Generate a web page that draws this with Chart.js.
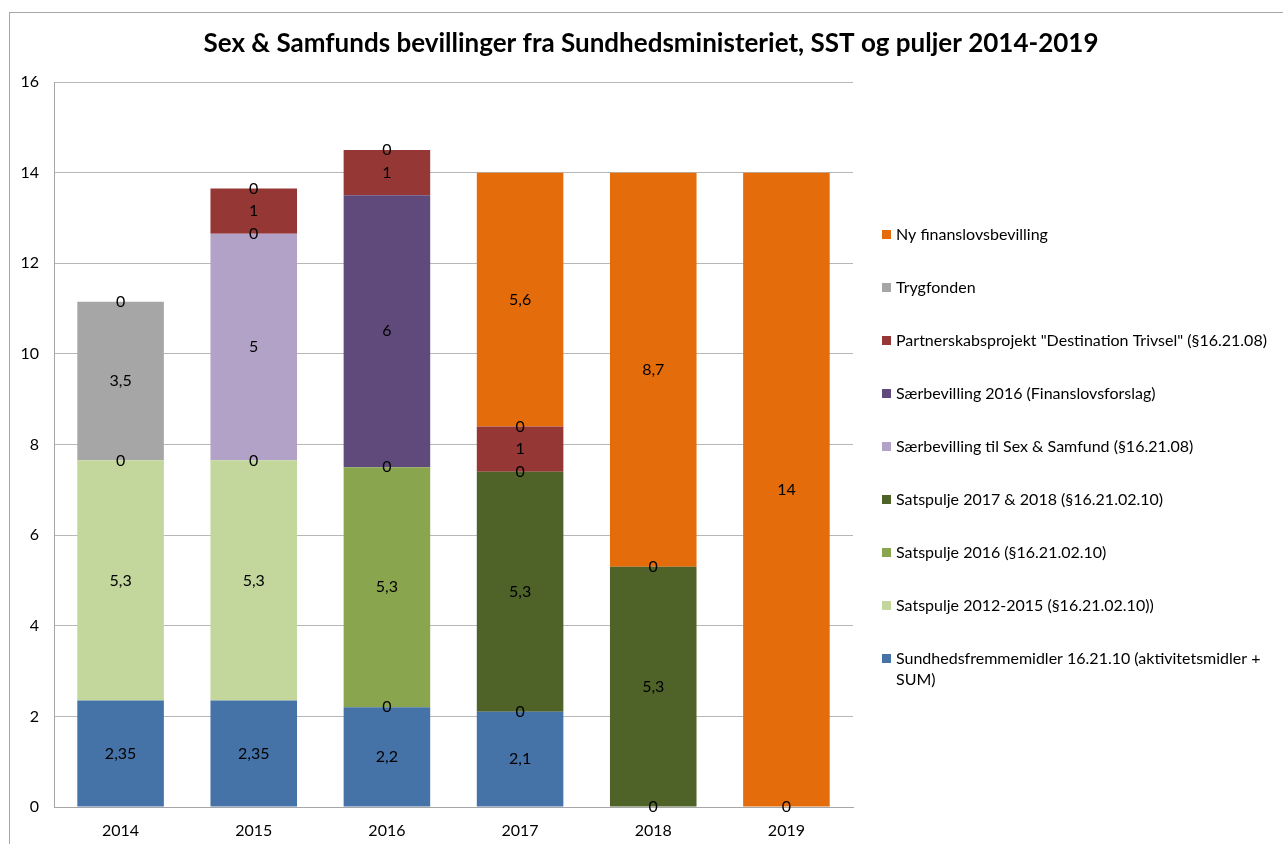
<!DOCTYPE html>
<html>
<head>
<meta charset="utf-8">
<script src="https://cdn.jsdelivr.net/npm/chart.js@4.4.0/dist/chart.umd.min.js"></script>
<style>
  body { margin: 0; background: #fff; }
</style>
</head>
<body>
<canvas id="diagram" width="1283" height="844"></canvas>
<script>
// kategorier og serier (mio. kr.)
const years = ["2014", "2015", "2016", "2017", "2018", "2019"];
const sundhedsfremme = [2.35, 2.35, 2.2, 2.1, 0, 0];
const satspulje2012 = [5.3, 5.3, 0, null, null, null];
const satspulje2016 = [0, null, 5.3, 0, null, null];
const satspulje2017 = [null, 0, 0, 5.3, 5.3, null];
const saerbevillingSS = [null, 5, null, null, null, null];
const saerbevilling2016 = [null, 0, 6, 0, null, null];
const partnerskab = [null, 1, 1, 1, null, null];
const trygfonden = [3.5, null, null, 0, 0, null];
const nyFinanslov = [0, 0, 0, 5.6, 8.7, 14];
const yTicks = [0, 2, 4, 6, 8, 10, 12, 14, 16];

const FONT = "Lato";
const TITLE = "Sex & Samfunds bevillinger fra Sundhedsministeriet, SST og puljer 2014-2019";

const series = [
  { label: ["Sundhedsfremmemidler 16.21.10 (aktivitetsmidler +", "SUM)"], data: sundhedsfremme, color: "#4572A7" },
  { label: ["Satspulje 2012-2015 (§16.21.02.10))"], data: satspulje2012, color: "#C3D69B" },
  { label: ["Satspulje 2016 (§16.21.02.10)"], data: satspulje2016, color: "#89A54E" },
  { label: ["Satspulje 2017 & 2018 (§16.21.02.10)"], data: satspulje2017, color: "#4F6228" },
  { label: ["Særbevilling til Sex & Samfund (§16.21.08)"], data: saerbevillingSS, color: "#B3A2C7" },
  { label: ["Særbevilling 2016 (Finanslovsforslag)"], data: saerbevilling2016, color: "#604A7B" },
  { label: ["Partnerskabsprojekt \"Destination Trivsel\" (§16.21.08)"], data: partnerskab, color: "#953735" },
  { label: ["Trygfonden"], data: trygfonden, color: "#A6A6A6" },
  { label: ["Ny finanslovsbevilling"], data: nyFinanslov, color: "#E46C0A" },
];

// hvid baggrund, ramme og titel
const frame = {
  id: "frame",
  beforeDraw(chart) {
    const ctx = chart.ctx;
    ctx.save();
    ctx.fillStyle = "#fff";
    ctx.fillRect(0, 0, chart.width, chart.height);
    ctx.strokeStyle = "#a6a6a6";
    ctx.lineWidth = 1;
    ctx.strokeRect(9.5, 12.5, chart.width + 20, chart.height + 20);
    ctx.fillStyle = "#000";
    ctx.font = "bold 26px " + FONT;
    ctx.textAlign = "center";
    ctx.textBaseline = "middle";
    ctx.fillText(TITLE, 651, 44);
    ctx.restore();
  },
};

// værdier i søjlerne
const barLabels = {
  id: "barLabels",
  afterDatasetsDraw(chart) {
    const ctx = chart.ctx;
    ctx.save();
    ctx.font = "16px " + FONT;
    ctx.fillStyle = "#000";
    ctx.textAlign = "center";
    ctx.textBaseline = "middle";
    chart.data.datasets.forEach((ds, i) => {
      chart.getDatasetMeta(i).data.forEach((bar, j) => {
        const v = ds.data[j];
        if (v === null || v === undefined) return;
        ctx.fillText(String(v).replace(".", ","), bar.x, (bar.y + bar.base) / 2);
      });
    });
    ctx.restore();
  },
};

// forklaring til højre
const sideLegend = {
  id: "sideLegend",
  afterDraw(chart) {
    const ctx = chart.ctx;
    ctx.save();
    ctx.font = "16px " + FONT;
    ctx.textBaseline = "middle";
    const items = chart.data.datasets.slice().reverse();
    items.forEach((ds, k) => {
      const y = 235 + k * 53;
      ctx.fillStyle = ds.backgroundColor;
      ctx.fillRect(882, y - 5, 9, 9);
      ctx.fillStyle = "#000";
      ds.legendText.forEach((line, n) => {
        ctx.fillText(line, 896, y + n * 21);
      });
    });
    ctx.restore();
  },
};

new Chart(document.getElementById("diagram").getContext("2d"), {
  type: "bar",
  data: {
    labels: years,
    datasets: series.map((s) => ({
      label: s.label.join(" "),
      legendText: s.label,
      data: s.data,
      backgroundColor: s.color,
      borderWidth: 0,
      barPercentage: 0.65,
      categoryPercentage: 1,
    })),
  },
  options: {
    responsive: false,
    animation: false,
    layout: { padding: { left: 0, right: 430, top: 82, bottom: 0 } },
    plugins: {
      legend: { display: false },
      tooltip: { enabled: false },
      title: { display: false },
    },
    scales: {
      x: {
        stacked: true,
        grid: { display: true, drawOnChartArea: false, drawTicks: false },
        border: { color: "#a6a6a6" },
        ticks: { color: "#000", font: { family: FONT, size: 16 }, padding: 14 },
        afterFit: (scale) => { scale.height = 37; },
      },
      y: {
        stacked: true,
        min: 0,
        max: 16,
        afterBuildTicks: (scale) => { scale.ticks = yTicks.map((v) => ({ value: v })); },
        grid: { color: "#b7b7b7", drawTicks: false },
        border: { color: "#a6a6a6" },
        ticks: { color: "#000", font: { family: FONT, size: 16 }, padding: 15 },
        afterFit: (scale) => { scale.width = 54; },
      },
    },
  },
  plugins: [frame, barLabels, sideLegend],
});
</script>
</body>
</html>
